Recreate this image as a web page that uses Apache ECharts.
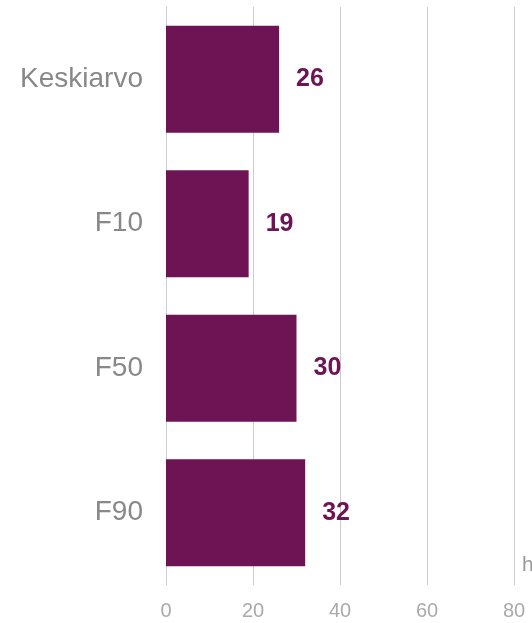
<!doctype html>
<html lang="fi">
<head>
    <meta charset="UTF-8">
    <script src="https://cdn.jsdelivr.net/npm/echarts@6/dist/echarts.min.js"></script>
    <title>Kaavio</title>
    <style>
        html, body { margin: 0; padding: 0; background: #fff; }
    </style>
</head>
<body>
<div id="main" style="width: 532px; height: 623px"></div>
<script type="text/javascript">
    // tiedot
    var categories = ["Keskiarvo", "F10", "F50", "F90"];
    var values = [26, 19, 30, 32];
    var xTicks = [0, 20, 40, 60, 80];
    var unitName = "h";

    var barColor = "#6e1454";

    var mychart = echarts.init(document.getElementById("main"));
    var option = {
        animation: false,
        grid: {
            left: 166,
            right: 18,
            top: 7,
            bottom: 38,
            containLabel: false,
            outerBoundsMode: "none"
        },
        xAxis: {
            type: "value",
            min: xTicks[0],
            max: xTicks[xTicks.length - 1],
            interval: xTicks[1] - xTicks[0],
            name: unitName,
            nameLocation: "end",
            nameGap: 8,
            nameTextStyle: {
                color: "#999",
                fontFamily: "Liberation Sans, Arial, sans-serif",
                fontSize: 21,
                verticalAlign: "bottom",
                padding: [0, 0, 9, 0]
            },
            axisLine: { show: false },
            axisTick: { show: false },
            axisLabel: {
                color: "#aaa",
                fontFamily: "Liberation Sans, Arial, sans-serif",
                fontSize: 20,
                margin: 16
            },
            splitLine: {
                show: true,
                lineStyle: { color: "#ccc", width: 1 }
            }
        },
        yAxis: {
            type: "category",
            data: categories,
            inverse: true,
            axisLine: { show: true, lineStyle: { color: "#ccc" } },
            axisTick: { show: false },
            axisLabel: {
                color: "#888",
                fontFamily: "Liberation Sans, Arial, sans-serif",
                fontSize: 28,
                margin: 23
            }
        },
        series: [{
            type: "bar",
            data: values,
            barCategoryGap: "26%",
            itemStyle: { color: barColor },
            label: {
                show: true,
                position: "right",
                distance: 17,
                color: barColor,
                fontWeight: "bold",
                fontSize: 25,
                fontFamily: "Liberation Sans, Arial, sans-serif"
            }
        }]
    };
    mychart.setOption(option);
</script>
</body>
</html>
